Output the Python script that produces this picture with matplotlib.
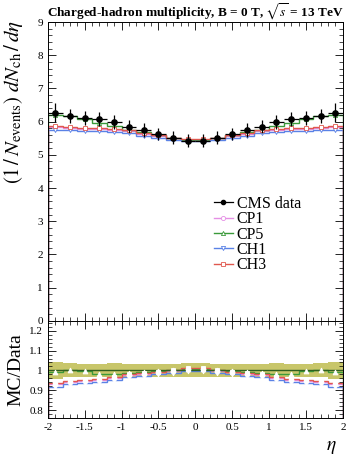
import numpy as np
import matplotlib
matplotlib.use("Agg")
import matplotlib.pyplot as plt
from matplotlib.ticker import MultipleLocator

plt.rcParams['font.family'] = ['Liberation Serif', 'DejaVu Serif']
plt.rcParams['mathtext.fontset'] = 'stix'

# eta bins
edges = np.round(np.arange(-2.0, 2.01, 0.2), 2)
centers = 0.5 * (edges[:-1] + edges[1:])

# CMS data, dN/deta per bin
data = [6.27, 6.17, 6.10, 6.08, 5.99, 5.85, 5.75, 5.63, 5.52, 5.43,
        5.43, 5.52, 5.63, 5.75, 5.85, 5.99, 6.08, 6.10, 6.17, 6.27]
data_err = [0.28, 0.22, 0.21, 0.21, 0.21, 0.20, 0.20, 0.19, 0.19, 0.19,
            0.19, 0.19, 0.19, 0.20, 0.20, 0.21, 0.21, 0.21, 0.22, 0.28]

# MC / data ratios
r_cp1 = [0.930, 0.940, 0.945, 0.950, 0.960, 0.975, 0.980, 0.990, 0.995, 1.005,
         1.005, 0.995, 0.990, 0.980, 0.975, 0.960, 0.950, 0.945, 0.940, 0.930]
r_cp5 = [0.990, 1.000, 0.998, 0.982, 0.980, 0.985, 0.990, 0.995, 1.000, 1.005,
         1.005, 1.000, 0.995, 0.990, 0.985, 0.980, 0.982, 0.998, 1.000, 0.990]
r_ch1 = [0.915, 0.930, 0.935, 0.940, 0.950, 0.965, 0.970, 0.980, 0.985, 0.995,
         0.995, 0.985, 0.980, 0.970, 0.965, 0.950, 0.940, 0.935, 0.930, 0.915]
r_ch3 = [0.938, 0.948, 0.952, 0.957, 0.966, 0.980, 0.985, 0.992, 1.000, 1.010,
         1.010, 1.000, 0.992, 0.985, 0.980, 0.966, 0.957, 0.952, 0.948, 0.938]

data = np.array(data)
data_err = np.array(data_err)

mc = [
    ("CP1", np.array(r_cp1), "#e58fe5", "o"),
    ("CP5", np.array(r_cp5), "#3a9a3a", "^"),
    ("CH1", np.array(r_ch1), "#5a82e6", "v"),
    ("CH3", np.array(r_ch3), "#e0584e", "s"),
]

fig = plt.figure(figsize=(3.52, 4.59), dpi=100)
ax = fig.add_axes([0.136, 0.301, 0.838, 0.651])
rax = fig.add_axes([0.136, 0.0893, 0.838, 0.2117], sharex=ax)

# main panel
for name, r, col, mk in mc:
    vals = r * data
    ax.stairs(vals, edges, color=col, lw=1.0)
    ax.plot(centers, vals, ls='none', marker=mk, ms=3, mfc='white', mec=col, mew=0.6)
hmc = []
for name, r, col, mk in mc:
    h, = ax.plot([], [], color=col, lw=1.0, marker=mk, ms=3, mfc='white', mec=col, mew=0.6, label=name)
    hmc.append(h)
ax.errorbar(centers, data, xerr=0.1, yerr=data_err, fmt='o', color='black',
            ms=3.8, lw=0.9, capsize=0, zorder=5)
hdat, = ax.plot([], [], color='black', lw=0.9, marker='o', ms=3)

ax.set_xlim(-2, 2)
ax.set_ylim(0, 9)
ax.yaxis.set_major_locator(MultipleLocator(1))
ax.yaxis.set_minor_locator(MultipleLocator(0.2))
ax.tick_params(labelbottom=False)
ax.set_ylabel(r'$(1\,/\,N_{\mathrm{events}})\ dN_{\mathrm{ch}}\,/\,d\eta$', fontsize=15, loc='top')
ax.yaxis.set_label_coords(-0.078, 1.005)
ax.set_title(r'Charged-hadron multiplicity, B = 0 T, $\sqrt{s}$ = 13 TeV',
             fontsize=9.5, fontweight='bold', pad=4)
ax.legend([hdat] + hmc, ['CMS data', 'CP1', 'CP5', 'CH1', 'CH3'],
          loc='upper left', bbox_to_anchor=(0.535, 0.445), frameon=False,
          fontsize=11.5, handlelength=1.2, handletextpad=0.25,
          labelspacing=-0.04, borderpad=0)

# ratio panel
rel = data_err / data
rax.stairs(1 + rel, edges, baseline=1 - rel, fill=True, color='#c8c66a', lw=0)
rax.axhline(1.0, color='#2f5f1f', lw=1.0)
for name, r, col, mk in mc:
    rax.stairs(r, edges, color=col, lw=1.0)
    rax.plot(centers, r, ls='none', marker=mk, ms=3.5, mfc='white', mec='white', mew=0.6)

rax.set_ylim(0.76, 1.25)
rax.yaxis.set_minor_locator(MultipleLocator(0.02))
rax.xaxis.set_minor_locator(MultipleLocator(0.1))
rax.set_yticks([0.8, 0.9, 1.0, 1.1, 1.2])
rax.set_yticklabels(['0.8', '0.9', '1', '1.1', '1.2'])
rax.set_xticks([-2, -1.5, -1, -0.5, 0, 0.5, 1, 1.5, 2])
rax.set_xticklabels(['-2', '-1.5', '-1', '-0.5', '0', '0.5', '1', '1.5', '2'])
rax.set_ylabel('MC/Data', fontsize=14)
rax.yaxis.set_label_coords(-0.078, 0.5)
rax.set_xlabel(r'$\eta$', fontsize=14)
rax.xaxis.set_label_coords(0.96, -0.22)

for a in (ax, rax):
    a.tick_params(which='both', direction='in', top=True, right=True, labelsize=8)
    a.tick_params(which='major', length=6, width=0.6)
    a.tick_params(which='minor', length=3, width=0.5)
    for s in a.spines.values():
        s.set_linewidth(0.7)

fig.savefig('out.png', dpi=100)
